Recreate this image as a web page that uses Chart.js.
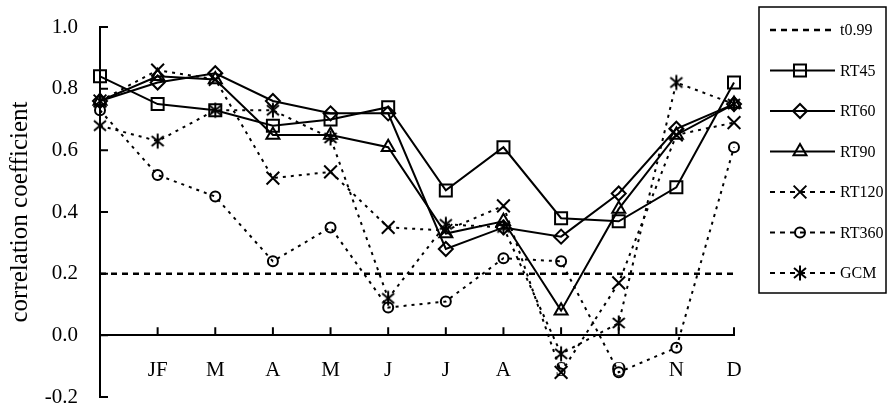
<!DOCTYPE html>
<html>
<head>
<meta charset="utf-8">
<script src="https://cdn.jsdelivr.net/npm/chart.js"></script>
<style>
  body { margin: 0; background: #fff; }
  canvas { display: block; }
</style>
</head>
<body>
<canvas id="corrChart" width="888" height="408"></canvas>
<script>
// data
const months = ['', 'JF', 'M', 'A', 'M', 'J', 'J', 'A', 'S', 'O', 'N', 'D'];
const t099  = [0.2, 0.2, 0.2, 0.2, 0.2, 0.2, 0.2, 0.2, 0.2, 0.2, 0.2, 0.2];
const rt45  = [0.84, 0.75, 0.73, 0.68, 0.70, 0.74, 0.47, 0.61, 0.38, 0.37, 0.48, 0.82];
const rt60  = [0.76, 0.82, 0.85, 0.76, 0.72, 0.72, 0.28, 0.35, 0.32, 0.46, 0.67, 0.75];
const rt90  = [0.76, 0.84, 0.83, 0.65, 0.65, 0.61, 0.33, 0.37, 0.08, 0.41, 0.65, 0.75];
const rt120 = [0.76, 0.86, 0.83, 0.51, 0.53, 0.35, 0.34, 0.42, -0.12, 0.17, 0.65, 0.69];
const rt360 = [0.73, 0.52, 0.45, 0.24, 0.35, 0.09, 0.11, 0.25, 0.24, -0.12, -0.04, 0.61];
const gcm   = [0.68, 0.63, 0.73, 0.73, 0.64, 0.12, 0.36, 0.35, -0.06, 0.04, 0.82, 0.75];
const yTicks = [-0.2, 0.0, 0.2, 0.4, 0.6, 0.8, 1.0];

const FONT = "'Liberation Serif', 'Times New Roman', serif";

// six-armed asterisk used for GCM
const star = document.createElement('canvas');
star.width = 18; star.height = 18;
const sc = star.getContext('2d');
sc.strokeStyle = '#000';
sc.lineWidth = 2;
sc.beginPath();
sc.moveTo(9, 1.5); sc.lineTo(9, 16.5);
sc.moveTo(3, 4); sc.lineTo(15, 14);
sc.moveTo(15, 4); sc.lineTo(3, 14);
sc.stroke();

const series = (label, data, style, radius, dash, legendDash) => ({
    label: label,
    data: data,
    borderColor: '#000',
    borderWidth: 2,
    borderDash: dash,
    legendDash: legendDash,
    tension: 0,
    fill: false,
    pointStyle: style,
    pointRadius: radius,
    pointBorderWidth: 2,
    pointBorderColor: '#000',
    pointBackgroundColor: 'rgba(0,0,0,0)'
});

// inward tick marks + boxed legend on the right
const extras = {
    id: 'extras',
    afterDraw(chart) {
        const ctx = chart.ctx;
        const xs = chart.scales.x, ys = chart.scales.y;
        const left = chart.chartArea.left;
        const y0 = ys.getPixelForValue(0);

        ctx.save();
        ctx.setLineDash([]);
        ctx.strokeStyle = '#000';
        ctx.lineWidth = 2;
        ctx.beginPath();
        for (let i = 1; i < months.length; i++) {
            const px = xs.getPixelForValue(i);
            ctx.moveTo(px, y0);
            ctx.lineTo(px, y0 - 8);
        }
        yTicks.forEach(v => {
            const py = ys.getPixelForValue(v);
            ctx.moveTo(left, py);
            ctx.lineTo(left + 8, py);
        });
        ctx.stroke();

        ctx.lineWidth = 1.5;
        ctx.strokeRect(759, 7, 127, 286);
        chart.data.datasets.forEach((ds, i) => {
            const yy = 30 + i * 40.5;
            ctx.strokeStyle = '#000';
            ctx.lineWidth = ds.borderWidth;
            ctx.setLineDash(ds.legendDash);
            ctx.beginPath();
            ctx.moveTo(770, yy);
            ctx.lineTo(835, yy);
            ctx.stroke();
            ctx.setLineDash([]);
            if (ds.pointRadius > 0) {
                ctx.lineWidth = 2;
                ctx.fillStyle = 'rgba(0,0,0,0)';
                Chart.helpers.drawPoint(ctx, {
                    pointStyle: ds.pointStyle,
                    radius: ds.pointRadius,
                    borderWidth: 2,
                    rotation: 0
                }, 800, yy);
            }
            ctx.fillStyle = '#000';
            ctx.font = '16px ' + FONT;
            ctx.textBaseline = 'middle';
            ctx.textAlign = 'left';
            ctx.fillText(ds.label, 840, yy + 1);
        });
        ctx.restore();
    }
};

const solid = [], dotted = [3, 5], dotLegend = [5, 5];

const tLine = series('t0.99', t099, 'circle', 0, [6, 5], [6, 5]);
tLine.borderWidth = 2.5;

const ctx = document.getElementById('corrChart').getContext('2d');
new Chart(ctx, {
    type: 'line',
    data: {
        labels: months,
        datasets: [
            tLine,
            series('RT45', rt45, 'rect', 8.5, solid, solid),
            series('RT60', rt60, 'rectRot', 7, solid, solid),
            series('RT90', rt90, 'triangle', 7.5, solid, solid),
            series('RT120', rt120, 'crossRot', 9, dotted, dotLegend),
            series('RT360', rt360, 'circle', 5, dotted, dotLegend),
            series('GCM', gcm, star, 8, dotted, dotLegend)
        ]
    },
    options: {
        responsive: false,
        animation: false,
        layout: { padding: { top: 27, bottom: 9, left: 0, right: 154 } },
        plugins: {
            legend: { display: false },
            tooltip: { enabled: false }
        },
        scales: {
            x: {
                type: 'category',
                position: { y: 0 },
                offset: false,
                grid: { display: true, drawOnChartArea: false, drawTicks: false },
                border: { display: true, color: '#000', width: 2 },
                ticks: {
                    color: '#000',
                    padding: 23,
                    autoSkip: false,
                    maxRotation: 0,
                    font: { family: FONT, size: 21 }
                }
            },
            y: {
                min: -0.2,
                max: 1.0,
                grid: { display: true, drawOnChartArea: false, drawTicks: false },
                border: { display: true, color: '#000', width: 2 },
                ticks: {
                    stepSize: 0.2,
                    color: '#000',
                    padding: 22,
                    font: { family: FONT, size: 21 },
                    callback: v => Math.abs(v) < 1e-9 ? '0.0' : v.toFixed(1)
                },
                title: {
                    display: true,
                    text: 'correlation coefficient',
                    color: '#000',
                    font: { family: FONT, size: 25 },
                    padding: { top: 5, bottom: 0 }
                },
                afterFit(scale) {
                    scale.width = 100;
                    scale.paddingTop = 0;
                    scale.paddingBottom = 0;
                }
            }
        }
    },
    plugins: [extras]
});
</script>
</body>
</html>
